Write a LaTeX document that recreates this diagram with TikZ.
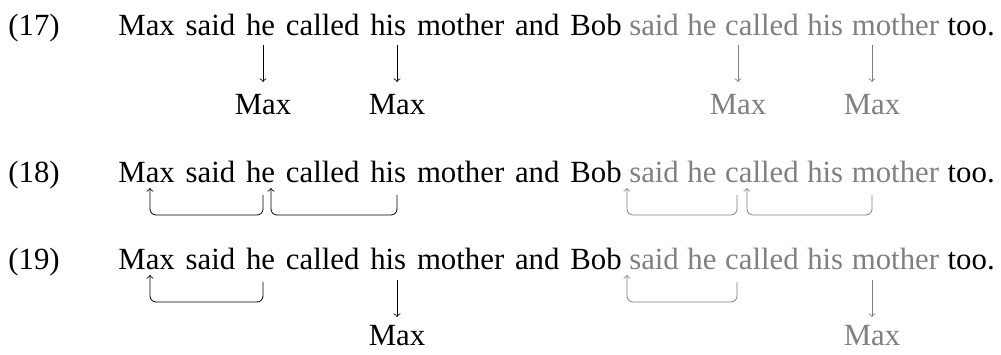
\documentclass[tikz,border=0pt]{standalone}
\usepackage{fontspec}
\setmainfont{Liberation Serif}
\usetikzlibrary{calc}
\definecolor{gr}{gray}{0.5}
\newcommand\sentrow[2]{%
 \node[w] (#1-Max) at (118,#2) {Max};
 \node[w] (#1-said) at ([xshift=\sp]#1-Max.base east) {said};
 \node[w] (#1-he) at ([xshift=\sp]#1-said.base east) {he};
 \node[w] (#1-called) at ([xshift=\sp]#1-he.base east) {called};
 \node[w] (#1-his) at ([xshift=\sp]#1-called.base east) {his};
 \node[w] (#1-mother) at ([xshift=\sp]#1-his.base east) {mother};
 \node[w] (#1-and) at ([xshift=\sp]#1-mother.base east) {and};
 \node[w] (#1-Bob) at ([xshift=\sp]#1-and.base east) {Bob};
 \node[g] (#1-gsaid) at ([xshift=3.4pt]#1-Bob.base east) {said};
 \node[g] (#1-ghe) at ([xshift=\spb]#1-gsaid.base east) {he};
 \node[g] (#1-gcalled) at ([xshift=\spb]#1-ghe.base east) {called};
 \node[g] (#1-ghis) at ([xshift=\spb]#1-gcalled.base east) {his};
 \node[g] (#1-gmother) at ([xshift=\spb]#1-ghis.base east) {mother};
 \node[w] (#1-too) at ([xshift=\spb]#1-gmother.base east) {too.};
}
\begin{document}
\begin{tikzpicture}[x=0.5pt,y=-0.5pt,
  font=\fontsize{15.4}{19}\selectfont,
  w/.style={inner sep=0pt,anchor=base west},
  g/.style={w,text=gr},
  ref/.style={inner sep=0pt,anchor=base},
  gref/.style={ref,text=gr},
  arr/.style={->,>=to,line width=0.4pt},
  garr/.style={arr,draw=gr},
  hook/.style={arr,rounded corners=3pt},
  ghook/.style={hook,draw=gr}]
\useasboundingbox (0,0) rectangle (1001,354);
\def\sp{5pt}\def\spb{3.9pt}
% column positions of the connectors
\def\xMax{150}\def\xhe{263}\def\xhis{397}\def\dg{475}
% row 17
\node[w] (l17) at (8,35) {(17)};
\sentrow{a}{35}
\node[ref] (a-m1) at (\xhe,114) {Max};
\node[ref] (a-m2) at (\xhis,114) {Max};
\node[gref] (a-m3) at (\xhe+\dg,114) {Max};
\node[gref] (a-m4) at (\xhis+\dg,114) {Max};
\draw[arr] (a-m1.north |- a-he.base) ++(0,10) -- (a-m1.north |- 0,82);
\draw[arr] (a-m2.north |- a-his.base) ++(0,10) -- (a-m2.north |- 0,82);
\draw[garr] (a-m3.north |- a-gcalled.base) ++(0,10) -- (a-m3.north |- 0,82);
\draw[garr] (a-m4.north |- a-gmother.base) ++(0,10) -- (a-m4.north |- 0,82);
% row 18
\node[w] (l18) at (8,182) {(18)};
\sentrow{b}{182}
\draw[hook] (\xhe,195) |- (\xMax,215) -- (\xMax,188);
\draw[hook] (\xhis,195) |- (\xhe+8,215) -- (\xhe+8,188);
\draw[ghook] (\xhe+\dg-1,195) |- (\xMax+\dg+2,215) -- (\xMax+\dg+2,188);
\draw[ghook] (\xhis+\dg,195) |- (\xhe+\dg+9,215) -- (\xhe+\dg+9,188);
% row 19
\node[w] (l19) at (8,269) {(19)};
\sentrow{c}{269}
\draw[hook] (\xhe,282) |- (\xMax,302) -- (\xMax,275);
\draw[ghook] (\xhe+\dg-1,282) |- (\xMax+\dg+2,302) -- (\xMax+\dg+2,275);
\node[ref] (c-m1) at (\xhis,345) {Max};
\node[gref] (c-m2) at (\xhis+\dg,345) {Max};
\draw[arr] (c-m1.north |- c-his.base) ++(0,11) -- (c-m1.north |- 0,317);
\draw[garr] (c-m2.north |- c-gmother.base) ++(0,11) -- (c-m2.north |- 0,317);
\end{tikzpicture}
\end{document}
